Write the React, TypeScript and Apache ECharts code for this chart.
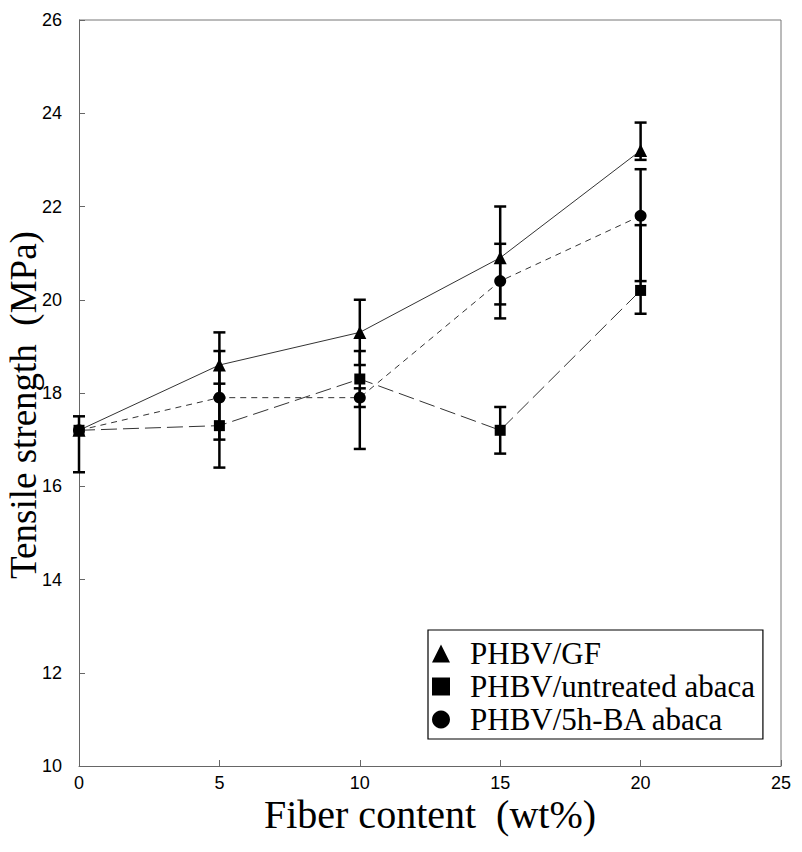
import React, { useEffect, useRef } from "react";
import * as echarts from "echarts";

const fiberContent = [0, 5, 10, 15, 20];
const gfValues = [17.2, 18.6, 19.3, 20.9, 23.2];
const gfLow = [17.2, 17.9, 18.6, 19.9, 23.0];
const gfHigh = [17.2, 19.3, 20.0, 22.0, 23.8];
const untreatedValues = [17.2, 17.3, 18.3, 17.2, 20.2];
const untreatedLow = [16.3, 16.4, 17.7, 16.7, 19.7];
const untreatedHigh = [17.5, 18.2, 18.9, 17.7, 21.6];
const baValues = [17.2, 17.9, 17.9, 20.4, 21.8];
const baLow = [17.2, 17.0, 16.8, 19.6, 20.4];
const baHigh = [17.2, 18.9, 18.1, 21.2, 22.8];
const seriesNames = ["PHBV/GF", "PHBV/untreated abaca", "PHBV/5h-BA abaca"];

const pairs = (ys: number[]) => fiberContent.map((x, i) => [x, ys[i]]);
const errData = (lo: number[], hi: number[]) =>
  fiberContent.map((x, i) => [x, lo[i], hi[i]]);

const errorSeries = (lo: number[], hi: number[]) => ({
  type: "custom",
  data: errData(lo, hi),
  silent: true,
  z: 3,
  renderItem: (_p: any, api: any) => {
    const x = api.value(0);
    const a = api.coord([x, api.value(1)]);
    const b = api.coord([x, api.value(2)]);
    if (Math.abs(a[1] - b[1]) < 0.5) return { type: "group", children: [] };
    const hw = 6;
    const style = { stroke: "#000", lineWidth: 2.5 };
    return {
      type: "group",
      children: [
        { type: "line", shape: { x1: a[0], y1: a[1], x2: b[0], y2: b[1] }, style },
        { type: "line", shape: { x1: a[0] - hw, y1: a[1], x2: a[0] + hw, y2: a[1] }, style },
        { type: "line", shape: { x1: b[0] - hw, y1: b[1], x2: b[0] + hw, y2: b[1] }, style },
      ],
    };
  },
});

export default function App() {
  const ref = useRef<HTMLDivElement>(null);
  useEffect(() => {
    if (!ref.current) return;
    const chart = echarts.init(ref.current, null, { renderer: "svg" });
    const axisLabelStyle = {
      color: "#000",
      fontFamily: "Liberation Sans",
      fontSize: 18,
    };
    chart.setOption({
      animation: false,
      backgroundColor: "#fff",
      grid: { left: 79, right: 21, top: 20, bottom: 86, containLabel: false, outerBoundsMode: "none" },
      legend: {
        orient: "vertical",
        left: 428,
        top: 630,
        padding: [8, 8, 4, 4],
        itemGap: 2,
        itemWidth: 18,
        itemHeight: 18,
        borderColor: "#000",
        borderWidth: 1.2,
        backgroundColor: "#fff",
        textStyle: {
          fontFamily: "Liberation Serif",
          fontSize: 31,
          lineHeight: 31,
          color: "#000",
          padding: [0, 0, 0, 15],
        },
        data: [
          { name: seriesNames[0], icon: "triangle" },
          { name: seriesNames[1], icon: "rect" },
          { name: seriesNames[2], icon: "circle" },
        ],
      },
      xAxis: {
        type: "value",
        min: 0,
        max: 25,
        interval: 5,
        name: "Fiber content  (wt%)",
        nameLocation: "middle",
        nameGap: 32,
        nameMoveOverlap: false,
        nameTextStyle: { fontFamily: "Liberation Serif", fontSize: 40, lineHeight: 32, color: "#000" },
        axisLine: { lineStyle: { color: "#666", width: 1 } },
        axisTick: { inside: true, length: 6, lineStyle: { color: "#666" } },
        axisLabel: { ...axisLabelStyle, margin: 9, lineHeight: 15 },
        splitLine: { show: false },
      },
      yAxis: {
        type: "value",
        min: 10,
        max: 26,
        interval: 2,
        name: "Tensile strength  (MPa)",
        nameLocation: "middle",
        nameGap: 37,
        nameMoveOverlap: false,
        nameRotate: 90,
        nameTextStyle: {
          fontFamily: "Liberation Serif",
          fontSize: 37,
          color: "#000",
          padding: [0, 24, 0, 0],
        },
        axisLine: { lineStyle: { color: "#666", width: 1 } },
        axisTick: { inside: true, length: 6, lineStyle: { color: "#666" } },
        axisLabel: { ...axisLabelStyle, margin: 17 },
        splitLine: { show: false },
      },
      graphic: [
        {
          type: "polyline",
          z: 0,
          shape: { points: [[79, 20], [781, 20], [781, 766]] },
          style: { stroke: "#777", lineWidth: 1, fill: "none" },
        },
      ],
      series: [
        {
          name: seriesNames[0],
          type: "line",
          data: pairs(gfValues),
          symbol: "triangle",
          symbolSize: 13,
          itemStyle: { color: "#000" },
          lineStyle: { color: "#333", width: 1, type: "solid" },
          z: 4,
        },
        {
          name: seriesNames[1],
          type: "line",
          data: pairs(untreatedValues),
          symbol: "rect",
          symbolSize: 11,
          itemStyle: { color: "#000" },
          lineStyle: { color: "#333", width: 1, type: [16, 6] },
          z: 5,
        },
        {
          name: seriesNames[2],
          type: "line",
          data: pairs(baValues),
          symbol: "circle",
          symbolSize: 12,
          itemStyle: { color: "#000" },
          lineStyle: { color: "#333", width: 1, type: [6, 5] },
          z: 4,
        },
        errorSeries(gfLow, gfHigh),
        errorSeries(untreatedLow, untreatedHigh),
        errorSeries(baLow, baHigh),
      ],
    });
    return () => chart.dispose();
  }, []);
  return <div ref={ref} style={{ width: 802, height: 852, margin: -8 }} />;
}
